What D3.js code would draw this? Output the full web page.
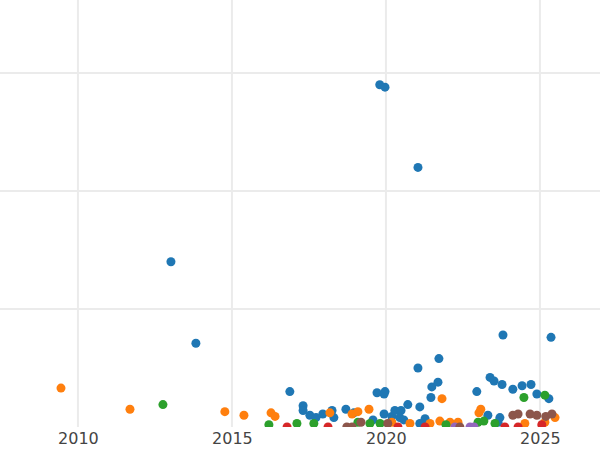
<!DOCTYPE html>
<html><head><meta charset="utf-8">
<script src="https://cdn.jsdelivr.net/npm/d3@7"></script>
<style>body{margin:0;background:#fff}</style>
</head><body><div id="chart"></div>
<script>
// series: [year, value]
var blue = [[2019.80,290],[2019.97,288],[2021.04,220],[2013.02,140],[2013.83,71],[2023.80,78],[2025.36,76],
  [2021.72,58],[2021.04,50],[2016.88,30],[2019.71,29],[2019.97,30],[2019.94,28],[2021.49,34],[2021.69,38],
  [2023.38,42],[2023.51,39],[2023.77,36],[2024.12,32],[2024.42,35],[2024.71,36],[2022.95,30],[2024.90,28],
  [2025.29,24],[2021.46,25],[2017.31,18],[2017.31,14],[2017.53,10],[2017.73,8],[2017.95,11],[2018.25,14],
  [2018.31,8],[2018.70,15],[2018.96,12],[2019.58,6],[2019.94,11],[2020.19,9],[2020.29,14],[2020.49,14],
  [2020.71,19],[2020.45,8],[2020.58,6],[2021.10,17],[2021.27,7],[2021.10,3],[2023.70,8],[2023.31,10],[2023.64,4]];
var orange = [[2009.45,33],[2011.69,15],[2014.77,13],[2015.39,10],[2016.27,12],[2016.40,9],[2018.18,12],
  [2018.90,11],[2019.09,13],[2019.45,15],[2021.82,24],[2023.08,15],[2023.02,12],[2020.19,4],[2020.78,3],
  [2021.43,3],[2021.75,5],[2022.08,4],[2022.34,4],[2024.51,3],[2025.49,8],[2025.16,4]];
var green = [[2012.76,19],[2016.20,2],[2017.11,3],[2017.66,3],[2019.09,4],[2019.48,3],[2019.81,3],
  [2021.95,2],[2022.99,4],[2023.18,5],[2024.48,25],[2025.16,27],[2023.54,3]];
var red = [[2016.79,0],[2018.12,0],[2020.39,0],[2021.27,0],[2023.86,0],[2024.29,0],[2025.06,2]];
var purple = [[2022.24,0],[2022.73,0],[2022.86,0]];
var brown = [[2018.73,0],[2018.90,0],[2019.19,4],[2020.06,3],[2022.40,0],[2024.12,10],[2024.29,11],
  [2024.68,11],[2024.90,10],[2025.19,9],[2025.39,11]];
var series = [[blue,"#1f77b4"],[orange,"#ff7f0e"],[green,"#2ca02c"],[red,"#d62728"],[purple,"#9467bd"],[brown,"#8c564b"]];
var xTicks = [2010, 2015, 2020, 2025];
var yGrid = [100, 200, 300];

var W = 600, H = 450, plotBottom = 427;
var svg = d3.select("#chart").append("svg").attr("width", W).attr("height", H);

var x = d3.scaleLinear().domain([2007.47, 2026.95]).range([0, W]);
var y = d3.scaleLinear().domain([0, 100]).range([plotBottom, 309]);

svg.append("defs").append("clipPath").attr("id", "clip")
  .append("rect").attr("width", W).attr("height", plotBottom);

svg.selectAll(".vg").data(xTicks).enter().append("line")
  .attr("x1", d => x(d)).attr("x2", d => x(d)).attr("y1", 0).attr("y2", plotBottom)
  .attr("stroke", "#ebebeb").attr("stroke-width", 2);
svg.selectAll(".hg").data(yGrid).enter().append("line")
  .attr("x1", 0).attr("x2", W).attr("y1", d => y(d)).attr("y2", d => y(d))
  .attr("stroke", "#ebebeb").attr("stroke-width", 2);

var g = svg.append("g").attr("clip-path", "url(#clip)");
series.forEach(function(s){
  g.selectAll(null).data(s[0]).enter().append("circle")
    .attr("cx", d => x(d[0])).attr("cy", d => y(d[1])).attr("r", 4.5)
    .attr("fill", s[1]);
});

var ax = svg.append("g").attr("transform", "translate(0," + plotBottom + ")")
  .call(d3.axisBottom(x).tickValues(xTicks).tickFormat(d3.format("d")).tickSize(0).tickPadding(6));
ax.select(".domain").remove();
ax.selectAll("text").attr("font-family", "DejaVu Sans, sans-serif").attr("font-size", 16).attr("fill", "#444");
</script></body></html>
